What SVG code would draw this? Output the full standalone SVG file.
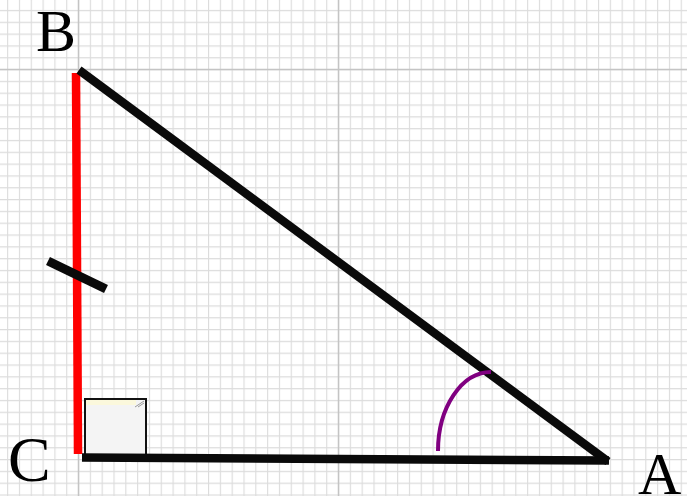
<svg xmlns="http://www.w3.org/2000/svg" width="687" height="496" viewBox="0 0 687 496">
<style>
.lbl{font-family:"Liberation Serif","Times New Roman",serif;font-size:60px;fill:#000}
.side{stroke:#0a0a0a;stroke-width:8.5;stroke-linecap:butt;fill:none}
</style>
<defs>
<pattern id="grid" x="7.09" y="9.91" width="11.818" height="11.818" patternUnits="userSpaceOnUse">
<path d="M0.5 0V11.818M0 0.5H11.818" stroke="#dcdcdc" stroke-width="1.3" fill="none"/>
</pattern>
</defs>
<rect width="687" height="496" fill="#fff"/>
<rect width="687" height="496" fill="url(#grid)"/>
<g id="major-grid" stroke="#c4c4c4" stroke-width="1.5">
<line x1="78.5" y1="0" x2="78.5" y2="496"/>
<line x1="338.5" y1="0" x2="338.5" y2="496"/>
<line x1="0" y1="69.5" x2="687" y2="69.5"/>
</g>
<g id="right-angle">
<rect x="85" y="399" width="61" height="56" fill="#f4f4f4" stroke="#111" stroke-width="2"/>
<rect x="86" y="400" width="50" height="5" fill="#fbf8dc"/>
<path d="M135 407L144 401M138 407L144 403" stroke="#999" stroke-width="1" fill="none"/>
</g>
<g id="connectors">
<line id="BC" x1="76" y1="73" x2="78" y2="454" stroke="#ff0000" stroke-width="8.5"/>
<line id="BA" class="side" x1="79" y1="70" x2="608" y2="461.5"/>
<line id="CA" class="side" x1="82" y1="457.5" x2="609" y2="460.5"/>
<line id="tick" x1="48" y1="261" x2="106" y2="289" stroke="#0a0a0a" stroke-width="9"/>
<path id="angleA" d="M438 451A53 79 0 0 1 491 372" stroke="#800080" stroke-width="4" fill="none"/>
</g>
<g id="B"><text class="lbl" x="36" y="51">B</text></g>
<g id="C"><text class="lbl" x="8" y="481" style="font-size:64px">C</text></g>
<g id="A"><text class="lbl" x="638" y="494">A</text></g>
</svg>
